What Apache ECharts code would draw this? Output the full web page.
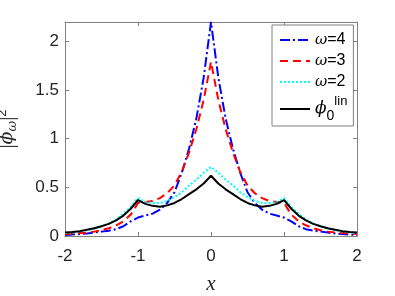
<!DOCTYPE html>
<html><head><meta charset="utf-8">
<script src="https://cdn.jsdelivr.net/npm/echarts@6/dist/echarts.min.js"></script>
<style>html,body{margin:0;padding:0;background:#fff}#c{width:395px;height:296px}</style>
</head><body><div id="c"></div>
<script>
const xs = [-2,-1.9,-1.8,-1.7,-1.6,-1.5,-1.4,-1.3,-1.2,-1.1,-1,-0.9,-0.8,-0.7,-0.6,-0.5,-0.4,-0.3,-0.2,-0.1,0,0.1,0.2,0.3,0.4,0.5,0.6,0.7,0.8,0.9,1,1.1,1.2,1.3,1.4,1.5,1.6,1.7,1.8,1.9,2];
const w4 = [0.01,0.015,0.02,0.025,0.035,0.045,0.055,0.07,0.10,0.15,0.19,0.21,0.23,0.27,0.34,0.45,0.65,0.90,1.21,1.63,2.20,1.63,1.21,0.90,0.65,0.45,0.34,0.27,0.23,0.21,0.19,0.15,0.10,0.07,0.055,0.045,0.035,0.025,0.02,0.015,0.01];
const w3 = [0.02,0.025,0.03,0.035,0.045,0.06,0.08,0.11,0.15,0.22,0.34,0.35,0.36,0.39,0.44,0.52,0.66,0.86,1.10,1.40,1.79,1.40,1.10,0.86,0.66,0.52,0.44,0.39,0.36,0.35,0.34,0.22,0.15,0.11,0.08,0.06,0.045,0.035,0.03,0.025,0.02];
const w2 = [0.03,0.035,0.045,0.06,0.075,0.10,0.13,0.17,0.23,0.30,0.39,0.35,0.34,0.34,0.36,0.40,0.45,0.52,0.58,0.65,0.71,0.65,0.58,0.52,0.45,0.40,0.36,0.34,0.34,0.35,0.39,0.30,0.23,0.17,0.13,0.10,0.075,0.06,0.045,0.035,0.03];
const lin = [0.035,0.04,0.05,0.065,0.08,0.10,0.125,0.16,0.21,0.28,0.37,0.33,0.31,0.30,0.315,0.34,0.38,0.43,0.48,0.54,0.62,0.54,0.48,0.43,0.38,0.34,0.315,0.30,0.31,0.33,0.37,0.28,0.21,0.16,0.125,0.10,0.08,0.065,0.05,0.04,0.035];
const xTicks = [-2,-1,0,1,2];
const yTicks = [0,0.5,1,1.5,2];

const pair = a => xs.map((x,i)=>[x,a[i]]);
const frame = '#808080', txt = '#262626';
const chart = echarts.init(document.getElementById('c'));
const mkX = (pos, show) => ({
  type:'value', position:pos, min:xTicks[0], max:xTicks[xTicks.length-1], interval:1,
  axisLine:{show:true,onZero:false,lineStyle:{color:frame,width:1}},
  axisTick:{show:true,inside:true,length:4,lineStyle:{color:frame}},
  axisLabel:{show:show,color:txt,fontSize:17,fontFamily:'Liberation Sans',margin:12},
  splitLine:{show:false},
  name: show ? 'x' : '', nameLocation:'middle', nameGap:38,
  nameTextStyle:{fontFamily:'Liberation Serif',fontStyle:'italic',fontSize:21,color:txt}
});
const mkY = (pos, show) => ({
  type:'value', position:pos, min:0, max:2.2, interval:0.5,
  axisLine:{show:true,onZero:false,lineStyle:{color:frame,width:1}},
  axisTick:{show:true,inside:true,length:4,lineStyle:{color:frame}},
  axisLabel:{show:show,showMaxLabel:false,color:txt,fontSize:17,fontFamily:'Liberation Sans',margin:6},
  splitLine:{show:false},
  name: show ? '|{p|ϕ̂}{s|ω}|{t|2}' : '', nameLocation:'middle', nameGap:46,
  nameTextStyle:{fontFamily:'Liberation Serif',fontSize:21,color:txt,
    rich:{p:{fontFamily:'DejaVu Serif',fontStyle:'italic',fontSize:19,color:txt},
          s:{fontFamily:'DejaVu Serif',fontStyle:'italic',fontSize:13,color:txt,verticalAlign:'bottom',padding:[8,0,0,0]},
          t:{fontFamily:'Liberation Sans',fontSize:13,color:txt,verticalAlign:'top',padding:[0,0,10,0]}}}
});
const ser = (name, data, color, type) => ({
  name, type:'line', data:pair(data), symbol:'none', showSymbol:false, smooth:false,
  xAxisIndex:0, yAxisIndex:0, clip:true,
  lineStyle:{color, width:2, type}, itemStyle:{color}
});
chart.setOption({
  animation:false,
  backgroundColor:'#fff',
  grid:{left:65,right:38,top:22,bottom:60,containLabel:false,outerBoundsMode:'none'},
  xAxis:[mkX('bottom',true), mkX('top',false)],
  yAxis:[mkY('left',true), mkY('right',false)],
  legend:{
    orient:'vertical', left:272, top:25, backgroundColor:'#fff',
    borderColor:frame, borderWidth:1, borderRadius:0, padding:[7,6,3,7],
    itemWidth:30, itemHeight:14, itemGap:5,
    itemStyle:{opacity:0},
    data:['w4','w3','w2','lin'],
    formatter: n => n==='lin' ? '{p|ϕ}{s|0}{t|lin}' : '{o|ω}{n|=' + n.slice(1) + '}',
    textStyle:{fontFamily:'Liberation Sans',fontSize:15,color:'#000',
      rich:{o:{fontFamily:'DejaVu Serif',fontStyle:'italic',fontSize:15,color:'#000'},
            n:{fontFamily:'Liberation Sans',fontSize:16,color:'#000'},
            p:{fontFamily:'DejaVu Serif',fontStyle:'italic',fontSize:17,color:'#000',lineHeight:28},
            s:{fontFamily:'Liberation Sans',fontSize:14,color:'#000',verticalAlign:'bottom',lineHeight:28},
            t:{fontFamily:'Liberation Sans',fontSize:13,color:'#000',verticalAlign:'top',lineHeight:28}}}
  },
  series:[
    ser('w4', w4, '#0000ff', [10,3,2,3]),
    ser('w3', w3, '#ff0000', [8,5]),
    ser('w2', w2, '#00ffff', [2,2]),
    ser('lin', lin, '#000000', 'solid')
  ]
});
</script></body></html>
